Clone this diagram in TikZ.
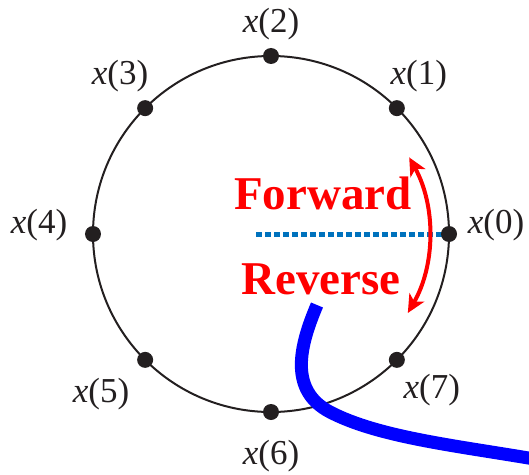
\documentclass[tikz,border=0pt]{standalone}
\usepackage{fontspec}
\setmainfont{Liberation Serif}
\usetikzlibrary{arrows.meta,positioning}
\definecolor{ring}{HTML}{231F20}
\definecolor{radblue}{HTML}{0072BD}
\definecolor{dirred}{HTML}{FF0000}
\definecolor{trail}{HTML}{0000FF}

\tikzset{
  sample/.style={circle, fill=ring, inner sep=0pt, minimum size=16pt},
  samplelbl/.style={font=\fontsize{35}{40}\selectfont, text=ring, inner sep=0pt},
  dirlbl/.style={font=\fontsize{47}{52}\selectfont\bfseries, text=dirred,
    inner sep=0pt, anchor=base}
}

\begin{document}
\begin{tikzpicture}[x=1pt,y=1pt]
  \useasboundingbox (-271,-240) rectangle (258,234);
  \coordinate (c) at (0,0);
  \coordinate (m) at (-15,0);
  \draw[ring, line width=2pt] (c) circle[radius=178];
  % dotted radius towards x(0)
  \draw[radblue, line width=5pt, dash pattern=on 5.5pt off 3.5pt] (m) -- (0:178);
  % samples on the ring
  \foreach \i/\dx/\dy in {0/47/9, 1/22/32, 2/0/32, 3/-25/32,
                          4/-54/9, 5/-44/-34, 6/0/-44, 7/35/-30} {
    \node[sample] (d\i) at (\i*45:178) {};
    \node[samplelbl] (l\i) at ([shift={(\dx,\dy)}]d\i) {\textit{x}(\i)};
  }
  % direction arrow
  \draw[dirred, line width=4pt,
        {Stealth[length=18pt, width=17pt, inset=5pt]}-{Stealth[length=18pt, width=17pt, inset=5pt]}]
    (c) ++(-30:158) arc[start angle=-30, end angle=29, radius=158];
  \node[dirlbl] (fwd) at (52,24.5) {Forward};
  \node[dirlbl] (rev) at (50,-60) {Reverse};
  % thick trace
  \coordinate (tail) at (46,-71);
  \coordinate (bend) at (59,-178);
  \coordinate (off) at (269,-226);
  \draw[trail, line width=13pt]
    (tail) .. controls (29,-111) and (17,-156) .. (bend)
           .. controls (109,-204) and (189,-212) .. (off);
\end{tikzpicture}
\end{document}
